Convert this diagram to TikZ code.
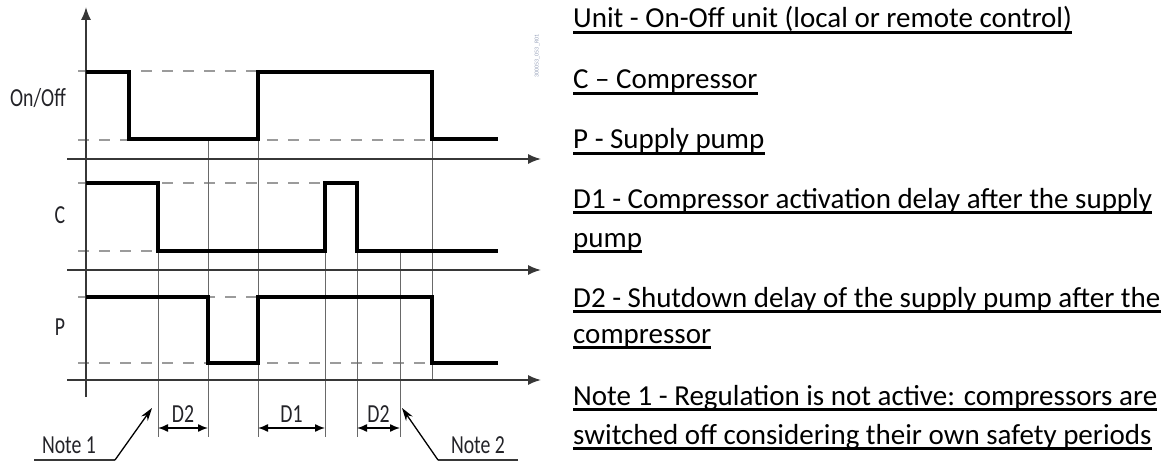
\documentclass[tikz,border=0pt]{standalone}
\usepackage{fontspec}
\setmainfont{Carlito}
\newfontfamily\narrowfont[FakeStretch=0.76]{Carlito}
\usetikzlibrary{arrows.meta, positioning, calc}
\definecolor{axisgray}{RGB}{55, 55, 55}
\definecolor{dashgray}{RGB}{155, 155, 155}
\definecolor{gridgray}{RGB}{105, 105, 105}
\definecolor{labelgray}{RGB}{35, 35, 40}
\definecolor{codeblue}{RGB}{150, 160, 185}

\begin{document}
\begin{tikzpicture}[x=1pt, y=-1pt,
    signal/.style={line width=3.6pt, black},
    axis/.style={line width=1.6pt, axisgray, -{Latex[length=13pt, width=10pt]}},
    level/.style={line width=1.5pt, dashgray, dash pattern=on 11pt off 10pt},
    gridline/.style={line width=0.9pt, gridgray},
    delay/.style={line width=1.4pt, black,
                  {Latex[length=10pt, width=8pt]}-{Latex[length=10pt, width=8pt]}},
    pointer/.style={line width=1.3pt, black, -{Stealth[length=13pt, width=8pt]}},
    lead/.style={line width=1.6pt, axisgray},
    sig/.style={font=\narrowfont\fontsize{26}{26}\selectfont, text=labelgray, inner sep=0pt},
    legend/.style={font=\fontsize{29}{29}\selectfont, anchor=base west, inner sep=0pt},
    uline/.style={line width=2.6pt, black}
]
\useasboundingbox (0,0) rectangle (1172,465);

% Reference levels
\draw[level] (78, 71)  -- (258, 71);
\draw[level] (78, 140) -- (432, 140);
\draw[level] (78, 183) -- (325, 183);
\draw[level] (78, 251) -- (158, 251);
\draw[level] (78, 297) -- (258, 297);
\draw[level] (78, 363) -- (432, 363);

% Time marks
\draw[gridline] (158, 251) -- (158, 437);
\draw[gridline] (208, 140) -- (208, 437);
\draw[gridline] (258, 140) -- (258, 437);
\draw[gridline] (325, 251) -- (325, 437);
\draw[gridline] (357, 251) -- (357, 437);
\draw[gridline] (400, 251) -- (400, 437);
\draw[gridline] (432, 140) -- (432, 380);

% Axes
\coordinate (yax0) at (86, 397);
\coordinate (yax1) at (86, 7);
\draw[axis] (yax0) -- (yax1);
\foreach \ay [count=\i] in {159, 270, 380} {
  \coordinate (ax\i s) at (67, \ay);
  \coordinate (ax\i e) at (541, \ay);
  \draw[axis] (ax\i s) -- (ax\i e);
}

% Signals
\draw[signal] (86, 72) -| (129, 139) -| (258, 72) -| (432, 139) -- (498, 139);
\draw[signal] (86, 183) -| (158, 251) -| (325, 183) -| (357, 251) -- (498, 251);
\draw[signal] (86, 297) -| (208, 363) -| (258, 297) -| (432, 363) -- (498, 363);

% Signal names
\node[sig] (onoff) at (38, 98)  {On/Off};
\node[sig] (comp)  at (60, 215) {C};
\node[sig] (pump)  at (60, 327) {P};

% Delays
\coordinate (d2a0) at (158, 428); \coordinate (d2a1) at (208, 428);
\coordinate (d1a0) at (258, 428); \coordinate (d1a1) at (325, 428);
\coordinate (d2b0) at (357, 428); \coordinate (d2b1) at (400, 428);
\draw[delay] (d2a0) -- node[sig, above=5pt] (d2a) {D2} (d2a1);
\draw[delay] (d1a0) -- node[sig, above=5pt] (d1)  {D1} (d1a1);
\draw[delay] (d2b0) -- node[sig, above=5pt] (d2b) {D2} (d2b1);

% Notes
\node[sig] (note1) at (69, 445)  {Note 1};
\node[sig] (note2) at (478, 445) {Note 2};
\coordinate (n1l) at (34, 460);  \coordinate (n1r) at (115, 460);
\coordinate (n2l) at (438, 460); \coordinate (n2r) at (518, 460);
\coordinate (n1tip) at (152, 408);
\coordinate (n2tip) at (402, 408);
\draw[lead] (n1l) -- (n1r);
\draw[pointer] (n1r) -- (n1tip);
\draw[lead] (n2r) -- (n2l);
\draw[pointer] (n2l) -- (n2tip);

\node[rotate=90, font=\fontsize{6}{6}\selectfont, text=codeblue, inner sep=0pt] (code) at (537, 56) {300053\_053\_R01};

% Legend
\node[legend] (lu)  at (573, 28)  {Unit - On-Off unit (local or remote control)};
\node[legend] (lc)  at (573, 89)  {C -- Compressor};
\node[legend] (lp)  at (573, 149) {P - Supply pump};
\node[legend] (ld1) at (573, 208) {D1 - Compressor activation delay after the supply};
\node[legend] (ld1b) at (573, 247) {pump};
\node[legend] (ld2) at (573, 307) {D2 - Shutdown delay of the supply pump after the};
\node[legend] (ld2b) at (573, 343) {compressor};
\node[legend] (ln1) at (573, 405) {Note 1 - Regulation is not active: compressors are};
\node[legend] (ln1b) at (573, 444) {switched off considering their own safety periods};
\foreach \n in {lu, lc, lp, ld1, ld1b, ld2, ld2b, ln1, ln1b}
  \draw[uline] ($(\n.base west)+(0,4.5)$) -- ($(\n.base east)+(0,4.5)$);

\end{tikzpicture}
\end{document}
